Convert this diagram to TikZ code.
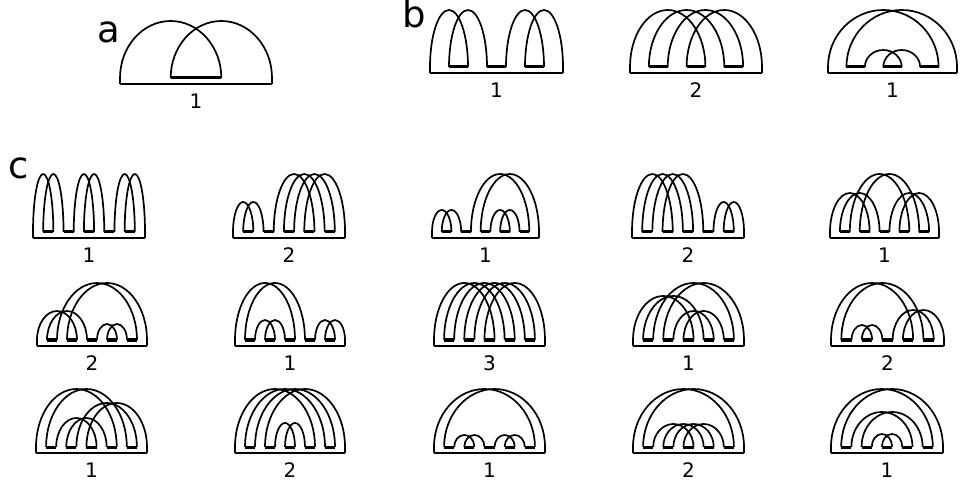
\documentclass[tikz,border=0pt]{standalone}
\usepackage{fontspec}
\setmainfont{DejaVu Sans}
% #1 x0, #2 width, #3 baseline Y, #4 number of feet, #5 chords p/q/h, #6 label, #7 node name
\newcommand\rdiag[7]{%
  \pgfmathsetmacro\rs{#2/(#4-1)}%
  \pgfmathsetmacro\ryt{#3+6}%
  \pgfmathtruncatemacro\rne{#4/2-2}%
  \draw[base] (#1,#3) -- ({#1+#2},#3);
  \foreach \e in {0,...,\rne}{%
    \draw[footseg] ({#1+(2*\e+1)*\rs},\ryt) -- ({#1+(2*\e+2)*\rs},\ryt);
  }%
  \foreach \p/\q/\h in {#5}{%
    \foreach \k in {0,1}{%
      \pgfmathsetmacro\rxa{#1+(2*\p+\k)*\rs}%
      \pgfmathsetmacro\rxb{#1+(2*\q+\k)*\rs}%
      \pgfmathsetmacro\rr{(\rxb-\rxa)/2}%
      \pgfmathsetmacro\rya{ifthenelse(2*\p+\k==0,#3,\ryt)}%
      \pgfmathsetmacro\ryb{ifthenelse(2*\q+\k==#4-1,#3,\ryt)}%
      \draw[arcl] (\rxa,\rya) -- (\rxa,\ryt) arc[start angle=180,end angle=0,x radius=\rr,y radius=\h] -- (\rxb,\ryb);
    }%
  }%
  \node[lab] (#7) at ({#1+#2/2},#3-17) {#6};
}
\begin{document}
\begin{tikzpicture}[x=1pt,y=1pt,
  base/.style={line width=1.6pt},
  arcl/.style={line width=1.7pt},
  footseg/.style={line width=3pt},
  lab/.style={font=\fontsize{20}{22}\selectfont, inner sep=0pt},
  big/.style={font=\fontsize{37}{40}\selectfont, inner sep=0pt}]
\useasboundingbox (0,0) rectangle (961,485);

% panel letters
\node[big] (la) at (109,453) {a};
\node[big] (lb) at (414,471) {b};
\node[big] (lc) at (19,317) {c};

% a
\rdiag{120}{152}{401}{4}{0/1/57}{1}{a1}

% b
\rdiag{430}{133}{412}{8}{0/1/57,2/3/57}{1}{b1}
\rdiag{630}{132}{412}{8}{0/2/57,1/3/57}{2}{b2}
\rdiag{828}{129}{412}{8}{0/3/57,1/2/17}{1}{b3}

% c row 1
\rdiag{33}{112}{247}{12}{0/1/58,2/3/58,4/5/58}{1}{c1}
\rdiag{233}{112}{247}{12}{0/1/30,2/4/58,3/5/58}{2}{c2}
\rdiag{432}{107}{247}{12}{0/1/22,2/5/58,3/4/22}{1}{c3}
\rdiag{632}{112}{247}{12}{0/2/58,1/3/58,4/5/30}{2}{c4}
\rdiag{830}{109}{247}{12}{0/2/39,1/4/58,3/5/39}{1}{c5}

% c row 2
\rdiag{37}{110}{139}{12}{0/2/29,1/5/57,3/4/16}{2}{c6}
\rdiag{235}{110}{139}{12}{0/3/57,1/2/20,4/5/20}{1}{c7}
\rdiag{434}{111}{139}{12}{0/3/57,1/4/57,2/5/57}{3}{c8}
\rdiag{633}{111}{139}{12}{0/3/44,1/5/57,2/4/29}{1}{c9}
\rdiag{831}{113}{139}{12}{0/4/57,1/2/15,3/5/30}{2}{c10}

% c row 3
\rdiag{36}{111}{32}{12}{0/4/58,1/3/29,2/5/44}{1}{c11}
\rdiag{235}{110}{32}{12}{0/4/58,1/5/58,2/3/24}{2}{c12}
\rdiag{434}{111}{32}{12}{0/5/58,1/2/12,3/4/12}{1}{c13}
\rdiag{633}{111}{32}{12}{0/5/58,1/3/23,2/4/23}{2}{c14}
\rdiag{831}{112}{32}{12}{0/5/58,1/4/35,2/3/13}{1}{c15}
\end{tikzpicture}
\end{document}
